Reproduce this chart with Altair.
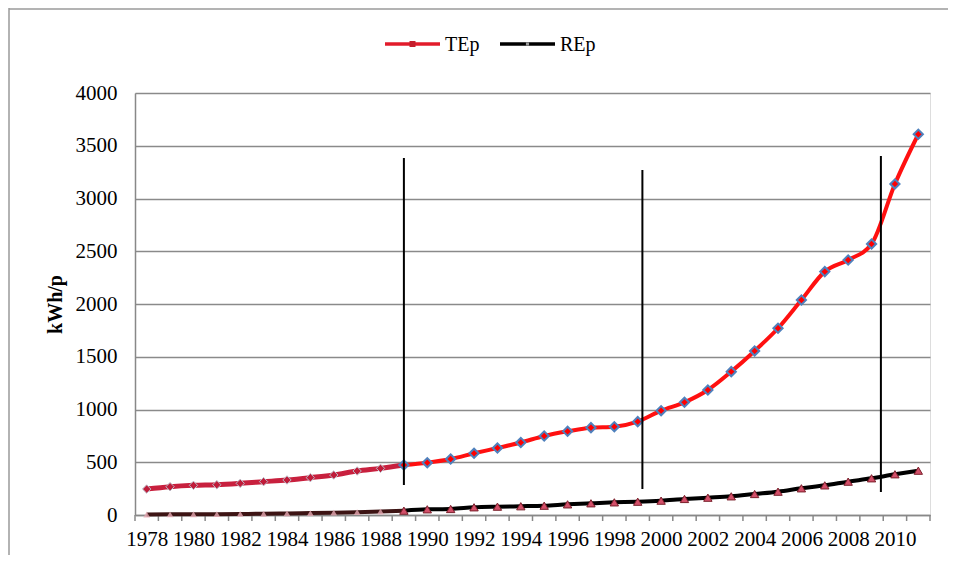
import altair as alt
import pandas as pd

years = [1978, 1979, 1980, 1981, 1982, 1983, 1984, 1985, 1986, 1987, 1988, 1989,
         1990, 1991, 1992, 1993, 1994, 1995, 1996, 1997, 1998, 1999, 2000, 2001,
         2002, 2003, 2004, 2005, 2006, 2007, 2008, 2009, 2010, 2011]
tep = [246, 268, 281, 287, 300, 316, 332, 354, 379, 417, 442, 474,
       496, 531, 585, 635, 687, 749, 793, 828, 837, 885, 989, 1068,
       1185, 1359, 1555, 1770, 2038, 2307, 2417, 2569, 3138, 3609]
rep = [5, 6, 7, 8, 10, 12, 15, 18, 22, 27, 33, 41,
       54, 57, 73, 79, 83, 88, 101, 111, 120, 126, 136, 152,
       164, 177, 199, 221, 253, 281, 316, 348, 386, 420]
series = ["TEp", "REp"]
x_labels = [1978, 1980, 1982, 1984, 1986, 1988, 1990, 1992, 1994, 1996, 1998,
            2000, 2002, 2004, 2006, 2008, 2010]
y_ticks = [0, 500, 1000, 1500, 2000, 2500, 3000, 3500, 4000]
vline_x = [1989, 1999.2, 2009.4]
vline_top = [3384, 3270, 3403]
vline_bottom = [284, 246, 218]
split_year = 1989

FONT = "Liberation Serif"
W, H = 795, 422

rows = []
for yr, t, r in zip(years, tep, rep):
    for name, v in ((series[0], t), (series[1], r)):
        if yr <= split_year:
            rows.append({"year": yr, "value": v, "series": name, "seg": "early"})
        if yr >= split_year:
            rows.append({"year": yr, "value": v, "series": name, "seg": "late"})
df = pd.DataFrame(rows)

xscale = alt.Scale(domain=[years[0] - 0.5, years[-1] + 0.5], nice=False, zero=False)
yscale = alt.Scale(domain=[y_ticks[0], y_ticks[-1]], nice=False)

x_axis = alt.Axis(values=x_labels, format="d", grid=False, ticks=False,
                  domainColor="#888888", domainWidth=1.5, labelFont=FONT,
                  labelFontSize=21, labelColor="#000000", labelPadding=13,
                  labelFlush=False, labelOverlap=False, title=None)
y_axis = alt.Axis(values=y_ticks, format="d", grid=True, gridColor="#8a8a8a",
                  gridWidth=1.5, ticks=False, domainColor="#888888",
                  domainWidth=1.5, labelFont=FONT, labelFontSize=21,
                  labelColor="#000000", labelPadding=18, title="kWh/p",
                  titleFont=FONT, titleFontSize=20, titleFontWeight="bold",
                  titleColor="#000000", titleX=-80, titleY=H / 2,
                  titleAngle=270, titleAlign="center", titleBaseline="middle")


def X(field="year"):
    return alt.X(f"{field}:Q", scale=xscale, axis=x_axis)


def Y(field="value"):
    return alt.Y(f"{field}:Q", scale=yscale, axis=y_axis)


base = alt.Chart(df)

# minor ticks at category boundaries
bounds = [y - 0.5 for y in years] + [years[-1] + 0.5]
ticks = alt.Chart(pd.DataFrame({"b": bounds})).mark_rule(
    color="#888888", strokeWidth=1.5).encode(
    x=X("b"), y=alt.value(H), y2=alt.value(H + 6))

# vertical black lines
vdf = pd.DataFrame({"x": vline_x, "top": vline_top, "bottom": vline_bottom})
vlines = alt.Chart(vdf).mark_rule(color="#000000", strokeWidth=2).encode(
    x=X("x"), y=Y("top"), y2="bottom:Q")


def sel(name, seg):
    return base.transform_filter(
        (alt.datum.series == name) & (alt.datum.seg == seg))


rep_early = sel("REp", "early").mark_line(
    color="#3d1414", strokeWidth=4, interpolate="monotone").encode(x=X(), y=Y())
rep_late = sel("REp", "late").mark_line(
    color="#000000", strokeWidth=4, interpolate="monotone").encode(x=X(), y=Y())
rep_pts_early = sel("REp", "early").transform_filter(
    alt.datum.year < split_year).mark_point(
    shape="triangle-up", filled=True, size=45, color="#e6a9b3",
    opacity=0.8).encode(x=X(), y=Y())
rep_pts_late = sel("REp", "late").mark_point(
    shape="triangle-up", filled=True, size=70, color="#d2506a",
    stroke="#7a1f2a", strokeWidth=1, opacity=1).encode(x=X(), y=Y())

tep_early = sel("TEp", "early").mark_line(
    color="#c8203e", strokeWidth=5, interpolate="monotone").encode(x=X(), y=Y())
tep_late = sel("TEp", "late").mark_line(
    color="#ff1010", strokeWidth=4, interpolate="monotone").encode(x=X(), y=Y())
tep_pts_early = sel("TEp", "early").transform_filter(
    alt.datum.year < split_year).mark_point(
    shape="diamond", filled=True, size=70, color="#c01c3a",
    stroke="#b8bcc8", strokeWidth=1, opacity=1).encode(x=X(), y=Y())
tep_pts_late = sel("TEp", "late").mark_point(
    shape="diamond", filled=True, size=85, color="#ff0000",
    stroke="#4f81bd", strokeWidth=2, opacity=1).encode(x=X(), y=Y())

# manual legend
leg = pd.DataFrame({"name": series})


def leg_item(name, x0, color, mcolor, msize):
    d = alt.Chart(leg).transform_filter(alt.datum.name == name)
    line = d.mark_rule(color=color, strokeWidth=3.5).encode(
        x=alt.value(x0), x2=alt.value(x0 + 55), y=alt.value(-49))
    mark = d.mark_point(shape="square", filled=True, color=mcolor,
                        size=msize, opacity=1).encode(
        x=alt.value(x0 + 27.5), y=alt.value(-49))
    txt = d.mark_text(font=FONT, fontSize=20, color="#000000", align="left",
                      baseline="middle").encode(
        x=alt.value(x0 + 60), y=alt.value(-48), text="name:N")
    return line + mark + txt


legend = leg_item("TEp", 250, "#e21b2b", "#c41e2c", 36) + \
    leg_item("REp", 365, "#000000", "#9a9a9a", 10)

# outer frame (left and top edges)
fr = alt.Chart(leg).transform_filter(alt.datum.name == series[0])
frame_l = fr.mark_rule(color="#9a9a9a", strokeWidth=1.5).encode(
    x=alt.value(-126), y=alt.value(-85), y2=alt.value(H + 40))
frame_t = fr.mark_rule(color="#9a9a9a", strokeWidth=1.5).encode(
    x=alt.value(-126), x2=alt.value(W + 18), y=alt.value(-84))

chart = alt.layer(
    ticks, rep_early, rep_late, tep_early, tep_late,
    rep_pts_early, rep_pts_late, tep_pts_early, tep_pts_late,
    vlines, legend, frame_l, frame_t,
).properties(
    width=W, height=H,
    autosize=alt.AutoSizeParams(type="none"),
    padding={"left": 127, "top": 85, "right": 18, "bottom": 40},
).configure_view(stroke=None).configure(background="#ffffff")

chart.save("out.html", embed_options={"renderer": "svg", "actions": False})
